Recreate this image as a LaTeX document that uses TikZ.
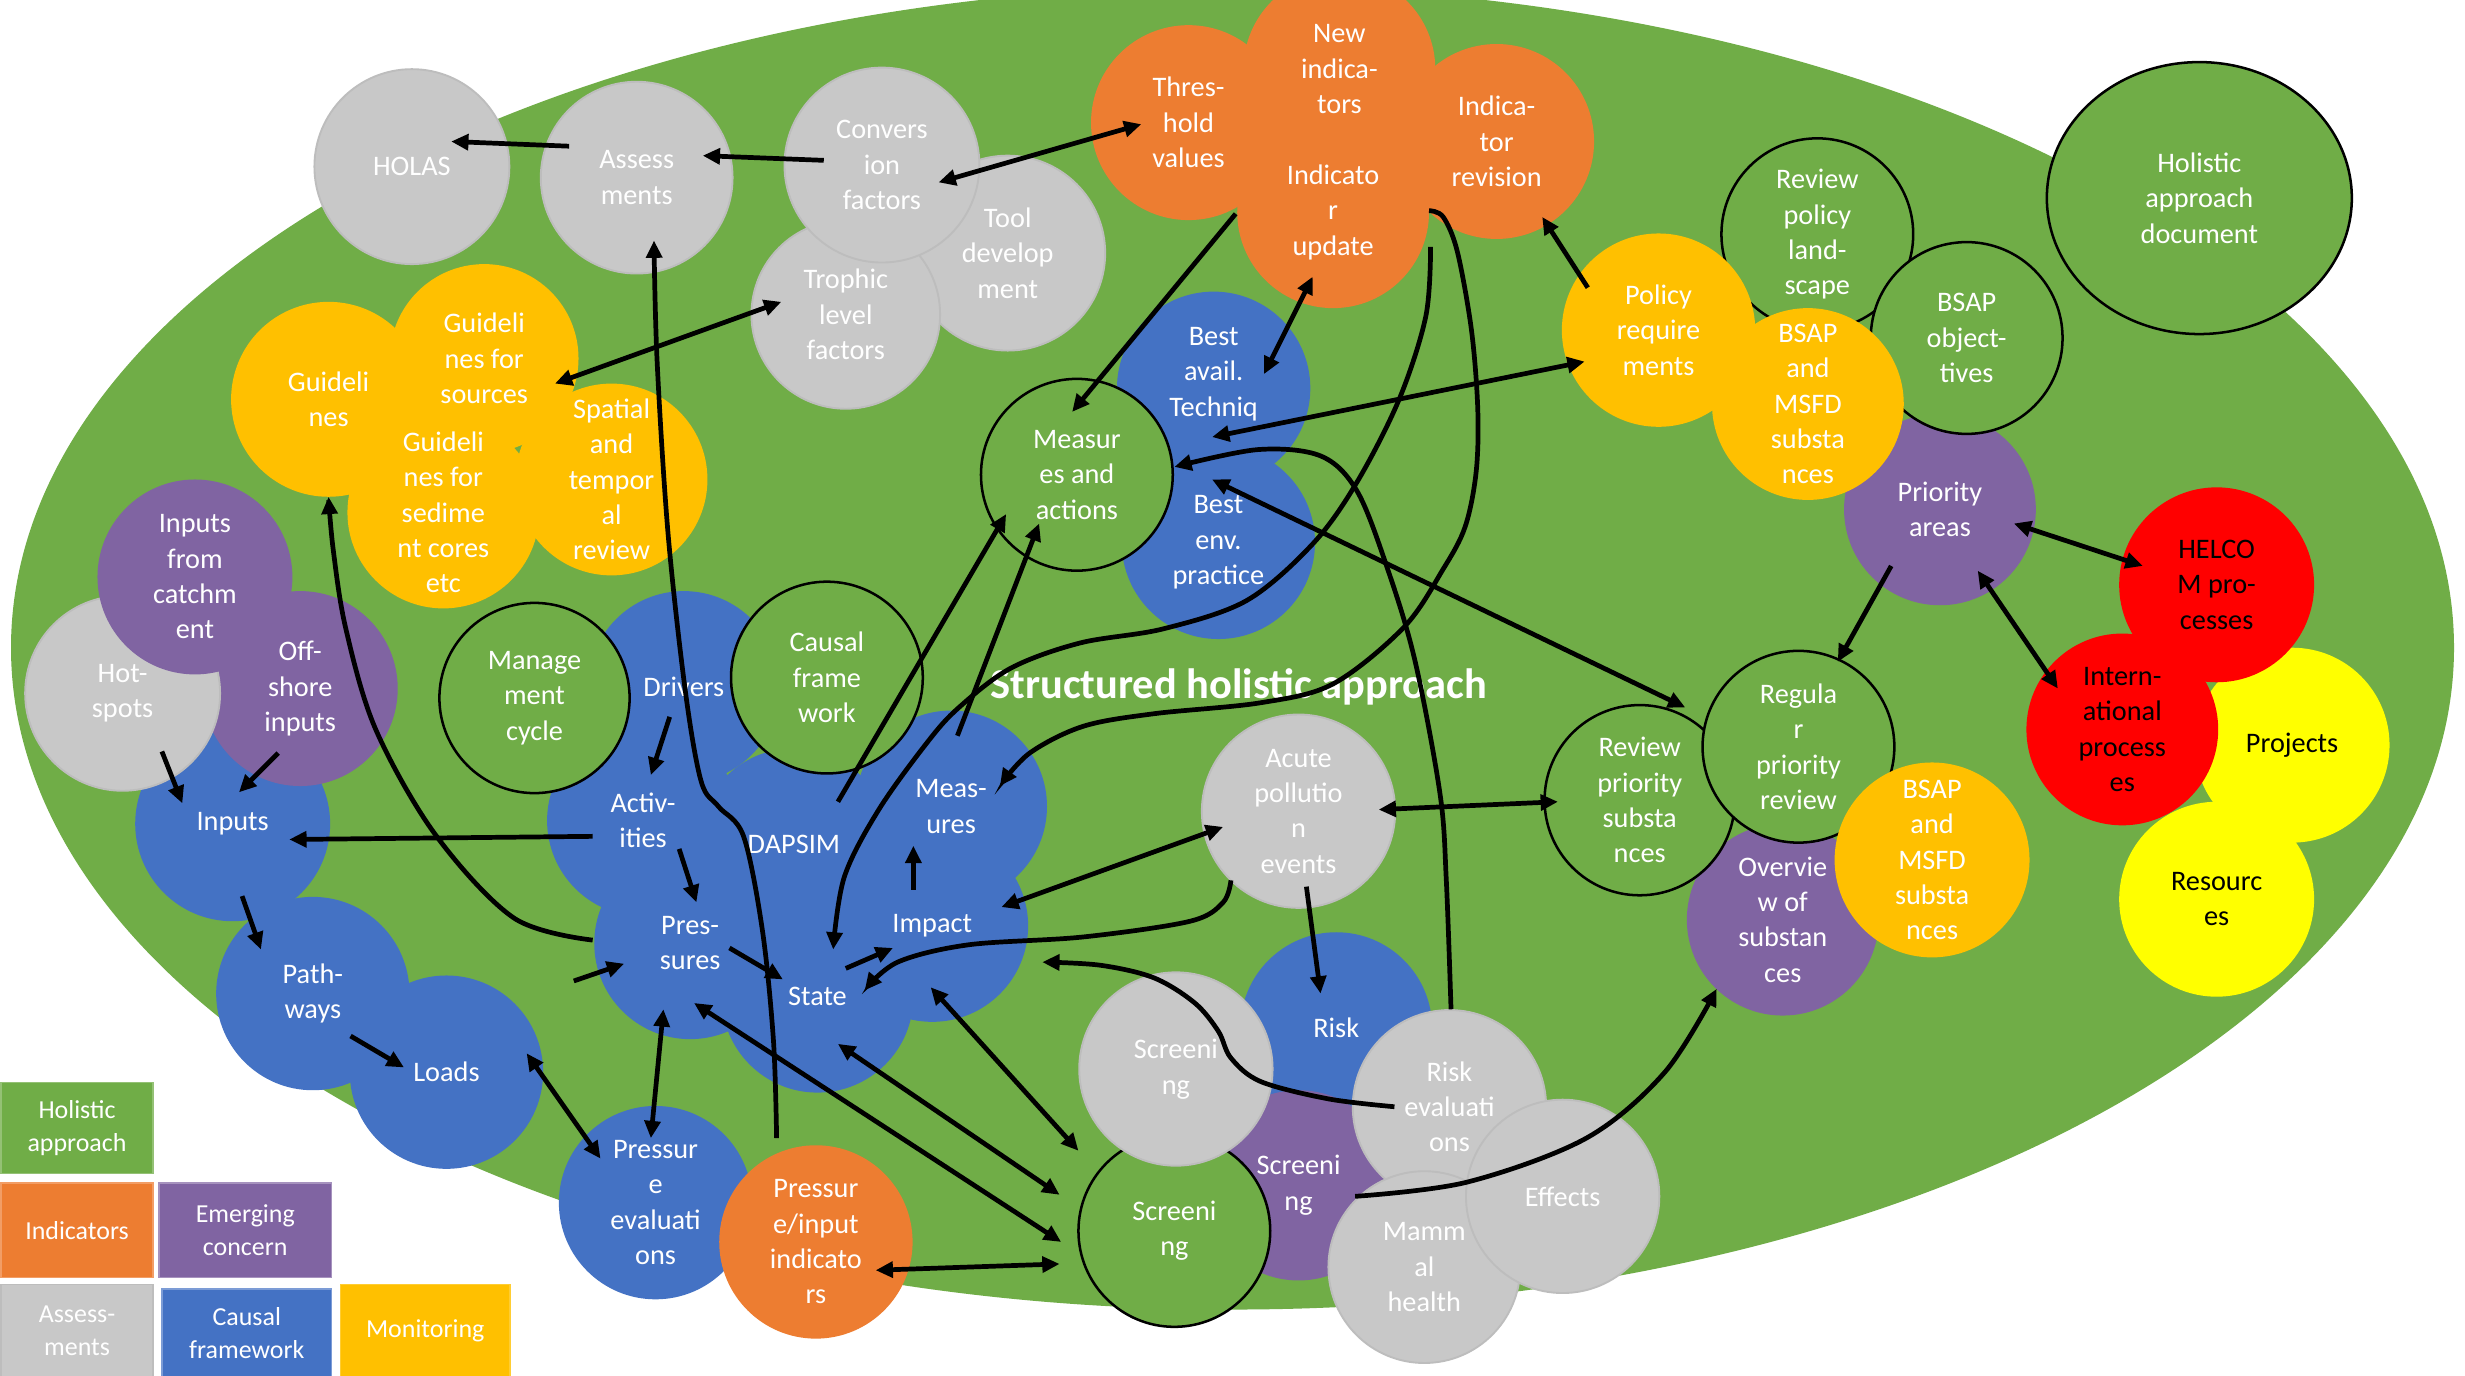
\documentclass[tikz,border=0pt]{standalone}
\usepackage{fontspec}
\setmainfont{Carlito}
\usetikzlibrary{arrows.meta,calc,shapes.geometric}
\definecolor{cgreen}{HTML}{70AD47}
\definecolor{corange}{HTML}{ED7D31}
\definecolor{cgray}{HTML}{C8C8C8}
\definecolor{cgrayb}{HTML}{BDBDBD}
\definecolor{cblue}{HTML}{4472C4}
\definecolor{cpurple}{HTML}{8064A2}
\definecolor{cgold}{HTML}{FFC000}
\definecolor{cred}{HTML}{FF0000}
\definecolor{cyel}{HTML}{FFFF00}
\newcommand\bodyfs{\fontsize{18}{22.5}\selectfont}
\newcommand\legfs{\fontsize{16.5}{20.5}\selectfont}
\newcommand\titlefs{\bfseries\fontsize{27}{32}\selectfont}
\begin{document}
\begin{tikzpicture}[x=1pt,y=-1pt,
  bub/.style={circle,inner sep=0pt,outer sep=0pt,minimum size=#1},
  sgray/.style={bub=#1,fill=cgray,draw=cgrayb,line width=1.2pt},
  sblue/.style={bub=#1,fill=cblue},
  sorange/.style={bub=#1,fill=corange},
  spurple/.style={bub=#1,fill=cpurple},
  sgold/.style={bub=#1,fill=cgold},
  sred/.style={bub=#1,fill=cred},
  syel/.style={bub=#1,fill=cyel},
  sgreen/.style={bub=#1,fill=cgreen,draw=black,line width=1.6pt},
  wt/.style={text=white,align=center,font=\bodyfs,inner sep=0pt},
  kt/.style={text=black,align=center,font=\bodyfs,inner sep=0pt},
  legbox/.style={rectangle,anchor=north west,inner sep=0pt,text=white,align=center,font=\legfs,line width=1pt},
  arr/.style={line width=3pt,-{Triangle[length=11pt,width=10pt]}},
  darr/.style={line width=3pt,{Triangle[length=11pt,width=10pt]}-{Triangle[length=11pt,width=10pt]}},
  sm/.style={smooth,tension=0.55}
]
\useasboundingbox (0,0) rectangle (1568,875);
\fill[white] (0,0) rectangle (1568,875);
\fill[cgreen] (784,412) ellipse [x radius=777, y radius=421];

% top gray group
\node[sgray=124,label={[wt]center:HOLAS}] (HOLAS) at (262,106) {};
\node[sgray=122,label={[wt]center:{Assess\\ments}}] (Assess) at (405,113) {};
\node[sgray=124,label={[wt]center:{Tool\\develop\\ment}}] (Tool) at (641,161) {};
\node[sgray=120,label={[wt]center:{Trophic\\level\\factors}}] (Trophic) at (538,200) {};
\node[sgray=124,label={[wt]center:{Convers\\ion\\factors}}] (Convers) at (561,105) {};

% best practice
\node[sblue=123,label={[wt,yshift=9pt]center:{Best\\avail.\\Techniq}}] (BestAv) at (772,247) {};
\node[sblue=123,label={[wt]center:{Best\\env.\\practice}}] (BestEnv) at (775,345) {};

% indicators
\node[sorange=124,label={[wt]center:{Thres-\\hold\\values}}] (Thresh) at (756,78) {};
\node[sorange=122,label={[wt]center:{New\\indica-\\tors}}] (NewInd) at (852,44) {};
\node[sorange=122,label={[wt]center:{Indicato\\r\\update}}] (IndUpd) at (848,135) {};
\node[sorange=124,label={[wt]center:{Indica-\\tor\\revision}}] (IndRev) at (952,90) {};

% guidelines
\node[sgold=124,label={[wt]center:{Guideli\\nes}}] (Guide) at (209,254) {};
\node[sgold=120,label={[wt]center:{Guideli\\nes for\\sources}}] (GuideSrc) at (308,228) {};
\node[sgold=122,label={[wt]center:{Guideli\\nes for\\sedime\\nt cores\\etc}}] (GuideSed) at (282,326) {};
\node[sgold=122,label={[wt]center:{Spatial\\and\\tempor\\al\\review}}] (Spatial) at (389,305) {};

% left cluster
\node[sblue=124,label={[wt]center:Inputs}] (Inputs) at (148,524) {};
\node[sblue=123,label={[wt]center:{Path-\\ways}}] (Path) at (199,632) {};
\node[sblue=123,label={[wt]center:Loads}] (Loads) at (284,682) {};
\node[spurple=124,label={[wt]center:{Off-\\shore\\inputs}}] (Off) at (191,438) {};
\node[sgray=124,label={[wt]center:{Hot-\\spots}}] (Hot) at (78,441) {};
\node[spurple=124,label={[wt]center:{Inputs\\from\\catchm\\ent}}] (Catch) at (124,367) {};

% DAPSIM cluster
\node[sblue=122,label={[wt]center:DAPSIM}] (DAPSIM) at (505,537) {};
\node[sblue=122,label={[wt]center:Drivers}] (Drivers) at (435,437) {};
\node[sblue=122,label={[wt]center:{Activ-\\ities}}] (Activ) at (409,522) {};
\node[sblue=122,label={[wt]center:{Pres-\\sures}}] (Pres) at (439,600) {};
\node[sblue=122,label={[wt]center:State}] (State) at (520,634) {};
\node[sblue=122,label={[wt]center:Impact}] (Impact) at (593,589) {};
\node[sblue=122,label={[wt]center:{Meas-\\ures}}] (Meas) at (605,513) {};
\node[sgreen=121,label={[wt]center:{Manage\\ment\\cycle}}] (Manage) at (340,444) {};
\node[sgreen=122,label={[wt]center:{Causal\\frame\\work}}] (Causal) at (526,431) {};

\node[sblue=123,label={[wt]center:{Pressur\\e\\evaluati\\ons}}] (PE) at (417,765) {};
\node[sorange=123,label={[wt]center:{Pressur\\e/input\\indicato\\rs}}] (PI) at (519,790) {};

\node[sgreen=122,label={[wt]center:{Measur\\es and\\actions}}] (MeasAct) at (685,302) {};

% right top
\node[sgreen=122,label={[wt]center:{Review\\policy\\land-\\scape}}] (RevPol) at (1156,149) {};
\node[spurple=122,label={[wt]center:{Priority\\areas}}] (Prio) at (1234,324) {};
\node[sgreen=122,label={[wt]center:{BSAP\\object-\\tives}}] (BSAPobj) at (1251,215) {};
\node[sgold=122,label={[wt]center:{BSAP\\and\\MSFD\\substa\\nces}}] (BSAP1) at (1150,257) {};
\node[sgold=123,label={[wt]center:{Policy\\require\\ments}}] (Policy) at (1055,210) {};

\node[ellipse,inner sep=0pt,minimum width=194,minimum height=173,fill=cgreen,draw=black,line width=1.6pt,
  label={[wt]center:{Holistic\\approach\\document}}] (HolDoc) at (1399,126) {};

% far right
\node[syel=124,label={[kt]center:Projects}] (Projects) at (1458,474) {};
\node[syel=124,label={[kt]center:{Resourc\\es}}] (Resources) at (1410,572) {};
\node[sred=124,label={[kt]center:{HELCO\\M pro-\\cesses}}] (HELCOM) at (1410,372) {};
\node[sred=122,label={[kt]center:{Intern-\\ational\\process\\es}}] (Intern) at (1350,464) {};

% substances
\node[spurple=122,label={[wt]center:{Overvie\\w of\\substan\\ces}}] (Overview) at (1134,585) {};
\node[sgreen=121,label={[wt]center:{Review\\priority\\substa\\nces}}] (RevPrio) at (1043,509) {};
\node[sgreen=122,label={[wt]center:{Regula\\r\\priority\\review}}] (Regular) at (1144,475) {};
\node[sgold=124,label={[wt]center:{BSAP\\and\\MSFD\\substa\\nces}}] (BSAP2) at (1229,547) {};

\node[sgray=123,label={[wt]center:{Acute\\pollutio\\n\\events}}] (Acute) at (826,516) {};

% bottom group
\node[sblue=122,label={[wt]center:Risk}] (Risk) at (850,654) {};
\node[spurple=121,label={[wt]center:{Screeni\\ng}}] (ScrP) at (826,754) {};
\node[sgreen=122,label={[wt]center:{Screeni\\ng}}] (ScrGreen) at (747,783) {};
\node[sgray=123,label={[wt]center:{Screeni\\ng}}] (ScrGray) at (748,680) {};
\node[sgray=123,label={[wt]center:{Risk\\evaluati\\ons}}] (RiskEval) at (922,704) {};
\node[sgray=122,label={[wt]center:{Mamm\\al\\health}}] (Mammal) at (906,806) {};
\node[sgray=123,label={[wt]center:Effects}] (Effects) at (994,761) {};

% title
\node[font=\titlefs,text=white,inner sep=0pt] (Title) at (788,437) {Structured holistic approach};

% legend
\node[legbox,fill=cgreen,draw=cgreen!75!white,minimum width=97,minimum height=58] (LegHA) at (0,688) {Holistic\\approach};
\node[legbox,fill=corange,draw=corange!75!white,minimum width=97,minimum height=60] (LegInd) at (0,752) {Indicators};
\node[legbox,fill=cpurple,draw=cpurple!70!white,minimum width=110,minimum height=60] (LegEC) at (100.5,752) {Emerging\\concern};
\node[legbox,fill=cgray,draw=cgrayb,minimum width=97,minimum height=59] (LegAs) at (0,816.5) {Assess-\\ments};
\node[legbox,fill=cblue,draw=cblue!70!white,minimum width=108,minimum height=56] (LegCF) at (102.5,819.5) {Causal\\framework};
\node[legbox,fill=cgold,draw=cgold!80!white,minimum width=108,minimum height=59] (LegMo) at (216,816.5) {Monitoring};

% straight connectors
\draw[arr] ($(Assess)+(-43,-20)$) -- ($(HOLAS)+(25,-16)$);
\draw[arr] ($(Convers)+(-37,-3)$) -- ($(Assess)+(42,-14)$);
\draw[darr] ($(Convers)+(36,11)$) -- ($(Thresh)+(-30,1)$);
\draw[darr] ($(GuideSrc)+(45,16)$) -- ($(Trophic)+(-41,-8)$);
\draw[arr] ($(Activ)+(-32,10)$) -- ($(Inputs)+(36,10)$);
\draw[arr] ($(Hot)+(25,37)$) -- ($(Inputs)+(-32,-13)$);
\draw[arr] ($(Off)+(-14,41)$) -- ($(Inputs)+(4,-20)$);
\draw[arr] ($(Inputs)+(6,46)$) -- ($(Path)+(-33,-28)$);
\draw[arr] ($(Path)+(24,27)$) -- ($(Loads)+(-27,-3)$);
\draw[darr] ($(Loads)+(51,-12)$) -- ($(PE)+(-35,-28)$);
\coordinate (freeP) at (365,624);
\draw[arr] (freeP) -- ($(Pres)+(-42,13)$);
\draw[darr] ($(Pres)+(-17,42)$) -- ($(PE)+(-3,-41)$);
\draw[arr] ($(Drivers)+(-9,19)$) -- ($(Activ)+(5,-29)$);
\draw[arr] ($(Activ)+(23,18)$) -- ($(Pres)+(4,-26)$);
\draw[arr] ($(Pres)+(25,3)$) -- ($(State)+(-22,-11)$);
\draw[arr] ($(State)+(18,-18)$) -- ($(Impact)+(-25,14)$);
\draw[arr] ($(Impact)+(-12,-23)$) -- ($(Meas)+(-24,25)$);
\draw[arr] ($(DAPSIM)+(28,-27)$) -- ($(MeasAct)+(-45,25)$);
\draw[arr] ($(Meas)+(4,-45)$) -- ($(MeasAct)+(-24,31)$);
\draw[arr] ($(Thresh)+(30,58)$) -- ($(MeasAct)+(-3,-40)$);
\draw[darr] ($(IndUpd)+(-13,41)$) -- ($(BestAv)+(32,-9)$);
\draw[arr] ($(Policy)+(-45,-27)$) -- ($(IndRev)+(29,48)$);
\draw[darr] ($(Policy)+(-47,20)$) -- ($(BestAv)+(-1,31)$);
\draw[darr] ($(BestEnv)+(-4,-40)$) -- ($(Regular)+(-72,-25)$);
\draw[darr] ($(Acute)+(-48,10)$) -- ($(Impact)+(44,-12)$);
\draw[darr] ($(Acute)+(51,-1)$) -- ($(RevPrio)+(-52,1)$);
\draw[arr] ($(Acute)+(5,48)$) -- ($(Risk)+(-10,-22)$);
\draw[darr] ($(Impact)+(-1,39)$) -- ($(ScrGreen)+(-61,-51)$);
\draw[darr] ($(State)+(13,30)$) -- ($(ScrGreen)+(-73,-23)$);
\draw[darr] ($(Pres)+(2.5,38)$) -- ($(ScrGreen)+(-72,7)$);
\draw[darr] ($(PI)+(38,18)$) -- ($(ScrGreen)+(-73,21)$);
\draw[arr] ($(Prio)+(-31,36)$) -- ($(Regular)+(25,-54)$);
\draw[darr] ($(Prio)+(47,9)$) -- ($(HELCOM)+(-47,-12)$);
\draw[darr] ($(Prio)+(24,39)$) -- ($(Intern)+(-41,-26)$);

% curved connectors
\coordinate (paS) at ($(PI)+(-25,-66)$);
\coordinate (paE) at ($(Assess)+(11,40)$);
\draw[arr] plot[sm] coordinates {(paS) (492,662) (485,592) (473,532) (457,513) (446,497) (436,440) (425,340) (418,230) (paE)};
\coordinate (pgS) at ($(Pres)+(-62,-2)$);
\coordinate (pgE) at ($(Guide)+(0,62)$);
\draw[arr] plot[sm] coordinates {(pgS) (327,584) (277,531) (239,464) (220,400) (212,350) (pgE)};
\coordinate (c1S) at ($(IndUpd)+(62,22)$);
\coordinate (c1E) at ($(State)+(10,-30)$);
\draw[arr] plot[sm] coordinates {(c1S) (907,201) (890,254) (863,307) (835,346) (793,382) (740,400) (687,409) (643,425) (610,450) (590,472) (559,515) (537,558) (c1E)};
\coordinate (c2S) at ($(IndRev)+(-43,44)$);
\coordinate (c2E) at ($(Meas)+(31,-13)$);
\draw[arr] plot[sm] coordinates {(c2S) (918,138) (927,160) (936,210) (940,260) (939,300) (932,335) (918,362) (893,399) (848,435) (802,447) (734,454) (689,462) (655,479) (c2E)};
\coordinate (c3S) at ($(RiskEval)+(1,-62)$);
\coordinate (c3E) at ($(MeasAct)+(62,-5)$);
\draw[arr] plot[sm] coordinates {(c3S) (920,560) (916,505) (900,420) (882,360) (863,312) (840,290) (800,286) (c3E)};
\coordinate (c4S) at ($(Acute)+(-43,44)$);
\coordinate (c4E) at ($(State)+(30,-4)$);
\draw[arr] plot[sm] coordinates {(c4S) (778,574) (757,586) (689,596) (616,601) (571,612) (c4E)};
\coordinate (c5S) at ($(RiskEval)+(-35,0)$);
\coordinate (c5E) at ($(Impact)+(70,23)$);
\draw[arr] plot[sm] coordinates {(c5S) (845,699) (802,688) (783,673) (775,656) (760,638) (734,622) (700,614) (c5E)};
\coordinate (c6S) at ($(ScrP)+(36,7)$);
\coordinate (c6E) at ($(Overview)+(-42,44)$);
\draw[arr] plot[sm] coordinates {(c6S) (933,752) (1009,724) (1059,682) (c6E)};
\end{tikzpicture}
\end{document}
